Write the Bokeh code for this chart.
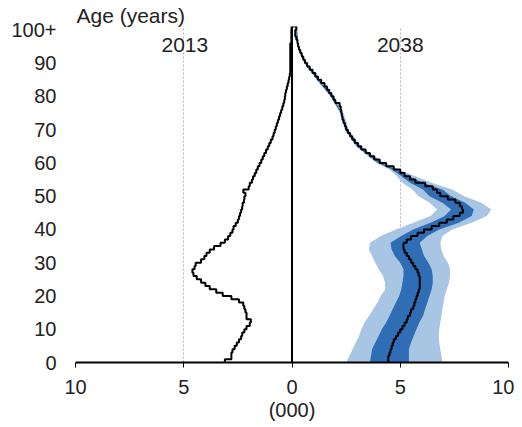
from bokeh.plotting import figure
from bokeh.models import Range1d, FixedTicker, Span, Label
from bokeh.embed import file_html
from bokeh.resources import INLINE

# ---------------- data ----------------
ages = list(range(0, 101))  # single years of age, 100 = 100+

# 2013 population by single year of age (thousands)
pop_2013 = [
    3.10, 2.80, 2.80, 2.75, 2.65, 2.55, 2.45, 2.35, 2.30, 2.20,   # 0-9
    2.10, 1.95, 1.90, 2.10, 2.10, 2.15, 2.20, 2.25, 2.45, 2.80,   # 10-19
    3.20, 3.50, 3.80, 4.00, 4.20, 4.40, 4.55, 4.60, 4.50, 4.45,   # 20-29
    4.20, 4.05, 3.95, 3.80, 3.60, 3.30, 3.10, 2.95, 2.85, 2.75,   # 30-39
    2.70, 2.60, 2.50, 2.45, 2.40, 2.35, 2.30, 2.28, 2.22, 2.20,   # 40-49
    2.15, 2.25, 2.00, 1.95, 1.85, 1.80, 1.72, 1.65, 1.58, 1.50,   # 50-59
    1.42, 1.35, 1.28, 1.20, 1.12, 1.05, 0.98, 0.90, 0.85, 0.80,   # 60-69
    0.75, 0.70, 0.65, 0.60, 0.55, 0.50, 0.45, 0.40, 0.36, 0.33,   # 70-79
    0.31, 0.28, 0.24, 0.20, 0.16, 0.13, 0.10, 0.08, 0.08, 0.08,   # 80-89
    0.08, 0.08, 0.08, 0.08, 0.08, 0.08, 0.03, 0.03, 0.03, 0.03,   # 90-99
    0.02,                                                         # 100+
]

# 2038 projection, median by single year of age (thousands)
pop_2038_median = [
    4.45, 4.45, 4.50, 4.55, 4.60, 4.65, 4.70, 4.80, 4.90, 5.00,   # 0-9
    5.10, 5.20, 5.30, 5.35, 5.45, 5.50, 5.60, 5.65, 5.70, 5.75,   # 10-19
    5.80, 5.85, 5.90, 5.90, 5.90, 5.90, 5.85, 5.80, 5.70, 5.60,   # 20-29
    5.50, 5.40, 5.30, 5.20, 5.15, 5.15, 5.30, 5.50, 5.80, 6.10,   # 30-39
    6.45, 6.80, 7.15, 7.45, 7.75, 7.90, 7.85, 7.75, 7.55, 7.20,   # 40-49
    6.85, 6.70, 6.50, 6.15, 5.70, 5.45, 5.20, 5.00, 4.70, 4.35,   # 50-59
    4.05, 3.80, 3.60, 3.40, 3.20, 3.05, 2.90, 2.78, 2.68, 2.58,   # 60-69
    2.50, 2.45, 2.38, 2.33, 2.30, 2.28, 2.25, 2.20, 2.00, 1.92,   # 70-79
    1.82, 1.72, 1.62, 1.50, 1.35, 1.20, 1.08, 0.95, 0.82, 0.70,   # 80-89
    0.60, 0.52, 0.45, 0.38, 0.32, 0.28, 0.25, 0.20, 0.15, 0.15,   # 90-99
    0.20,                                                         # 100+
]

# 2038 projection uncertainty bands (thousands)
band_ages = [0, 2, 4, 6, 8, 10, 12, 14, 16, 18, 20, 22, 24, 26, 28, 30, 32,
             34, 36, 38, 40, 42, 44, 46, 48, 50, 52, 54, 56, 58, 60, 65, 70,
             75, 80, 85, 90, 95, 101]
band_outer_low = [2.50, 2.65, 2.80, 2.95, 3.10, 3.20, 3.35, 3.55, 3.75, 3.95,
                  4.10, 4.30, 4.30, 4.20, 4.00, 3.85, 3.70, 3.55, 3.60, 4.10,
                  4.80, 5.60, 6.40, 6.70, 6.35, 5.85, 5.55, 5.10, 4.85, 4.50,
                  3.90, 2.95, 2.43, 2.22, 1.76, 1.13, 0.56, 0.24, 0.17]
band_inner_low = [3.60, 3.65, 3.70, 3.85, 4.00, 4.15, 4.35, 4.50, 4.65, 4.80,
                  4.95, 5.05, 5.10, 5.15, 5.15, 5.00, 4.75, 4.60, 4.55, 5.05,
                  5.60, 6.40, 7.05, 7.35, 6.95, 6.35, 6.05, 5.45, 5.05, 4.62,
                  3.98, 3.00, 2.47, 2.25, 1.79, 1.16, 0.58, 0.26, 0.18]
band_inner_high = [5.40, 5.40, 5.40, 5.50, 5.62, 5.75, 5.88, 6.05, 6.15, 6.25,
                   6.35, 6.45, 6.50, 6.50, 6.45, 6.30, 6.10, 6.00, 5.90, 6.25,
                   6.80, 7.70, 8.30, 8.40, 8.00, 7.35, 6.95, 6.05, 5.40, 4.80,
                   4.12, 3.10, 2.55, 2.32, 1.86, 1.23, 0.63, 0.30, 0.22]
band_outer_high = [6.95, 6.90, 6.85, 6.80, 6.78, 6.80, 6.85, 6.90, 6.95, 7.00,
                   7.05, 7.15, 7.25, 7.30, 7.30, 7.20, 7.00, 6.90, 6.85, 6.95,
                   7.40, 8.30, 9.00, 9.20, 8.75, 7.95, 7.40, 6.45, 5.70, 4.95,
                   4.25, 3.18, 2.62, 2.38, 1.92, 1.28, 0.67, 0.32, 0.24]

x_ticks = [-10, -5, 0, 5, 10]
x_tick_labels = ["10", "5", "0", "5", "10"]
y_ticks = [0, 10, 20, 30, 40, 50, 60, 70, 80, 90, 100]
y_tick_labels = ["0", "10", "20", "30", "40", "50", "60", "70", "80", "90", "100+"]
year_names = ["2013", "2038"]
year_label_x = [-4.95, 5.0]

# ---------------- styling ----------------
FONT = "Liberation Sans"
TXT = "#222222"
FS = "20px"
FS_BIG = "21px"
LIGHT = "#A9C5E4"
DARK = "#2F6DB5"
GRID = "#C9A6CC"

p = figure(
    frame_width=433, frame_height=336,
    x_range=Range1d(-10, 10), y_range=Range1d(0, 101),
    output_backend="svg", toolbar_location=None,
    min_border_left=75, min_border_right=6, min_border_top=26, min_border_bottom=57,
    title="Age (years)",
)
p.outline_line_color = None
p.background_fill_color = "white"
p.border_fill_color = "white"

# title used as the y-axis caption at top left
p.title.align = "left"
p.title.text_font = FONT
p.title.text_font_size = FS_BIG
p.title.text_font_style = "normal"
p.title.text_color = TXT
p.title.standoff = 0
p.title.offset = 1

# grid: vertical dotted only
p.ygrid.grid_line_color = None
p.xgrid.ticker = FixedTicker(ticks=[-10, -5, 5, 10])
p.xgrid.grid_line_color = GRID
p.xgrid.grid_line_dash = "2 2"
p.xgrid.grid_line_width = 1

# x axis
xa = p.xaxis[0]
xa.ticker = FixedTicker(ticks=x_ticks)
xa.major_label_overrides = {t: s for t, s in zip(x_ticks, x_tick_labels)}
xa.axis_line_color = "black"
xa.axis_line_width = 2
xa.major_tick_line_color = "black"
xa.major_tick_line_width = 1
xa.major_tick_out = 5
xa.major_tick_in = 0
xa.minor_tick_line_color = None
xa.major_label_text_font = FONT
xa.major_label_text_font_size = FS
xa.major_label_text_color = TXT
xa.major_label_standoff = 12
xa.axis_label = "(000)"
xa.axis_label_text_font = FONT
xa.axis_label_text_font_size = FS
xa.axis_label_text_font_style = "normal"
xa.axis_label_text_color = TXT
xa.axis_label_standoff = 2

# y axis: labels only
ya = p.yaxis[0]
ya.ticker = FixedTicker(ticks=y_ticks)
ya.major_label_overrides = {t: s for t, s in zip(y_ticks, y_tick_labels)}
ya.axis_line_color = None
ya.major_tick_line_color = None
ya.minor_tick_line_color = None
ya.major_tick_out = 0
ya.major_tick_in = 0
ya.major_label_standoff = 19
ya.major_label_text_font = FONT
ya.major_label_text_font_size = FS
ya.major_label_text_color = TXT

# uncertainty bands
p.harea(x1=band_outer_low, x2=band_outer_high, y=band_ages, fill_color=LIGHT, fill_alpha=1)
p.harea(x1=band_inner_low, x2=band_inner_high, y=band_ages, fill_color=DARK, fill_alpha=1)

# zero line
p.add_layout(Span(location=0, dimension="height", line_color="black", line_width=2))


def staircase(vals, yrs):
    xs, ys = [], []
    for a, v in zip(yrs, vals):
        xs += [v, v]
        ys += [a, a + 1]
    return xs, ys


lx, ly = staircase([-v for v in pop_2013], ages)
rx, ry = staircase(pop_2038_median, ages)
p.line(lx + rx[::-1], ly + ry[::-1], line_color="black", line_width=2)

# year captions
for nm, xx in zip(year_names, year_label_x):
    p.add_layout(Label(x=xx, y=95.5, text=nm, text_font=FONT, text_font_size=FS_BIG,
                       text_color=TXT, text_align="center", text_baseline="middle"))

open("out.html", "w").write(file_html(p, INLINE))
